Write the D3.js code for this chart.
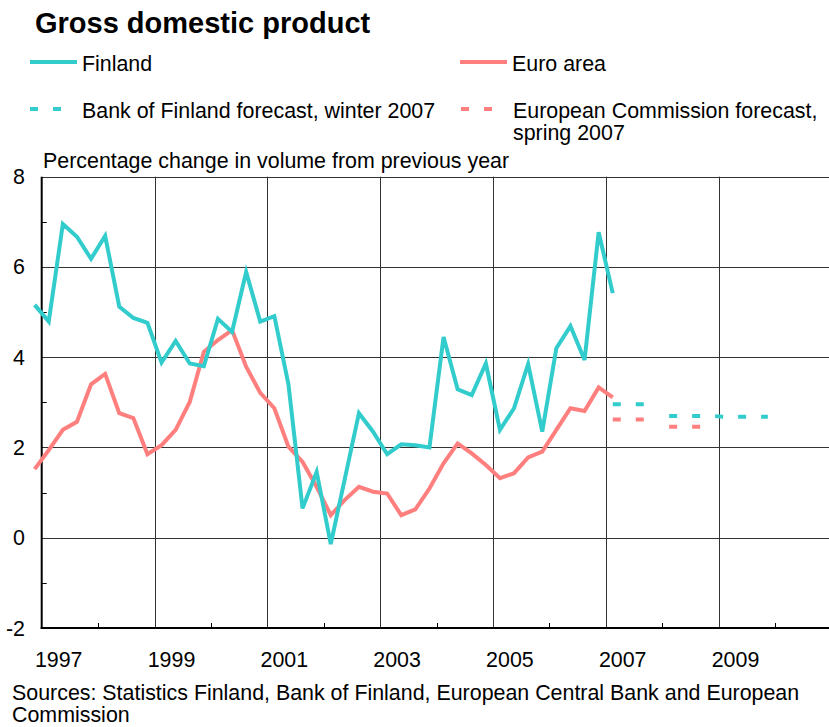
<!DOCTYPE html>
<html>
<head>
<meta charset="utf-8">
<script src="https://cdn.jsdelivr.net/npm/d3@7"></script>
<style>
  body { margin: 0; background: #fff; }
  svg { display: block; font-family: "Liberation Sans", Arial, sans-serif; }
</style>
</head>
<body>
<svg width="829" height="727"></svg>
<script>
/* data : quarterly GDP growth, first point is Q4 1996 */
var startYear = 1996, startQuarter = 4
var finland = [5.16,
  4.79, 6.95, 6.67, 6.18,
  6.69, 5.12, 4.87, 4.76,
  3.88, 4.36, 3.86, 3.80,
  4.85, 4.56, 5.89, 4.79,
  4.91, 3.40, 0.65, 1.46,
  -0.14, 1.31, 2.76, 2.35,
  1.85, 2.07, 2.05, 2.00,
  4.45, 3.29, 3.16, 3.86,
  2.39, 2.87, 3.85, 2.35,
  4.20, 4.69, 3.94, 6.77,
  5.42]
var euroArea = [1.52,
  1.94, 2.39, 2.57, 3.40,
  3.63, 2.76, 2.65, 1.85,
  2.05, 2.39, 3.01, 4.12,
  4.38, 4.60, 3.79, 3.21,
  2.87, 2.02, 1.68, 1.13,
  0.50, 0.84, 1.13, 1.02,
  0.98, 0.50, 0.63, 1.09,
  1.65, 2.09, 1.87, 1.61,
  1.32, 1.43, 1.78, 1.91,
  2.39, 2.87, 2.81, 3.33,
  3.11]

/* annual forecasts, grouped in the runs that are drawn as one dashed line */
var bofForecast = [[{year: 2007, value: 2.96}], [{year: 2008, value: 2.70}, {year: 2009, value: 2.68}]]
var ecForecast = [[{year: 2007, value: 2.62}], [{year: 2008, value: 2.46}]]

var yTicks = [-2, 0, 2, 4, 6, 8]
var yMinorTicks = [-1, 1, 3, 5, 7]
var yearLabels = [1997, 1999, 2001, 2003, 2005, 2007, 2009]
var yearMinorTicks = [1998, 2000, 2002, 2004, 2006, 2008, 2010]

var colFinland = "#33cccc"
var colEuro = "#ff7f7f"
var fs = 21.4

/*-- scales --*/
var plotLeft = 41.7, plotTop = 176.7, plotBottom = 628
var x = d3.scaleLinear().domain([1997, 2011]).range([plotLeft, plotLeft + 14 * 56.4])
var y = d3.scaleLinear().domain([-2, 8]).range([plotBottom, plotTop])

function quarterPos(i) {
    var q = (startQuarter - 1) + i
    return startYear + q / 4 + 0.125
}

var svg = d3.select("svg")

/* title */
svg.append("text")
    .attr("x", 35).attr("y", 33)
    .attr("font-size", 29).attr("font-weight", "bold")
    .text("Gross domestic product")

/* legend */
var legend = svg.append("g").attr("font-size", fs)
function legendItem(lx, ly, color, dashed, lines) {
    legend.append("line")
        .attr("x1", lx).attr("x2", dashed ? lx + 32 : lx + 47)
        .attr("y1", ly).attr("y2", ly)
        .attr("stroke", color).attr("stroke-width", 4)
        .attr("stroke-dasharray", dashed ? "8,15" : null)
    lines.forEach(function(t, k) {
        legend.append("text")
            .attr("x", lx + 52).attr("y", ly + 9 + k * 22)
            .text(t)
    })
}
legendItem(30, 62, colFinland, false, ["Finland"])
legendItem(460, 62, colEuro, false, ["Euro area"])
legendItem(30, 109, colFinland, true, ["Bank of Finland forecast, winter 2007"])
legendItem(461, 109, colEuro, true, ["European Commission forecast,", "spring 2007"])

/* axis title */
svg.append("text")
    .attr("x", 43).attr("y", 168)
    .attr("font-size", fs)
    .text("Percentage change in volume from previous year")

/* grid */
var grid = svg.append("g").attr("stroke", "#333").attr("stroke-width", 1)
grid.selectAll(".hgrid")
    .data(yTicks.filter(function(d) { return d > -2 }))
    .enter().append("line")
    .attr("x1", plotLeft).attr("x2", 829)
    .attr("y1", function(d) { return Math.round(y(d)) + 0.5 })
    .attr("y2", function(d) { return Math.round(y(d)) + 0.5 })
grid.selectAll(".vgrid")
    .data(yearLabels.filter(function(d) { return d > 1997 }))
    .enter().append("line")
    .attr("x1", function(d) { return Math.round(x(d)) + 0.5 })
    .attr("x2", function(d) { return Math.round(x(d)) + 0.5 })
    .attr("y1", plotTop).attr("y2", plotBottom)

/* axes */
var axes = svg.append("g").attr("stroke", "#000")
axes.append("line")
    .attr("x1", plotLeft).attr("x2", plotLeft)
    .attr("y1", plotTop).attr("y2", plotBottom + 1)
    .attr("stroke-width", 2)
axes.append("line")
    .attr("x1", plotLeft - 1).attr("x2", 829)
    .attr("y1", plotBottom).attr("y2", plotBottom)
    .attr("stroke-width", 2)
axes.selectAll(".ytick")
    .data(yMinorTicks)
    .enter().append("line")
    .attr("x1", plotLeft).attr("x2", plotLeft + 5)
    .attr("y1", function(d) { return Math.round(y(d)) + 0.5 })
    .attr("y2", function(d) { return Math.round(y(d)) + 0.5 })
axes.selectAll(".xtick")
    .data(yearMinorTicks)
    .enter().append("line")
    .attr("x1", function(d) { return Math.round(x(d)) + 0.5 })
    .attr("x2", function(d) { return Math.round(x(d)) + 0.5 })
    .attr("y1", plotBottom).attr("y2", plotBottom - 5)

/* tick labels */
svg.append("g").attr("font-size", fs).attr("text-anchor", "end")
    .selectAll("text")
    .data(yTicks)
    .enter().append("text")
    .attr("x", 25)
    .attr("y", function(d) { return y(d) + 7.5 })
    .text(function(d) { return d })
svg.append("g").attr("font-size", fs).attr("text-anchor", "middle")
    .selectAll("text")
    .data(yearLabels)
    .enter().append("text")
    .attr("x", function(d) { return x(d) + 17 })
    .attr("y", 667)
    .text(function(d) { return d })

/* series */
var line = d3.line()
    .x(function(d, i) { return x(quarterPos(i)) })
    .y(function(d) { return y(d) })

svg.append("path").datum(euroArea)
    .attr("d", line)
    .attr("fill", "none").attr("stroke", colEuro).attr("stroke-width", 4)
svg.append("path").datum(finland)
    .attr("d", line)
    .attr("fill", "none").attr("stroke", colFinland).attr("stroke-width", 4)

/* forecasts, one point per quarter at the annual value */
function expand(run) {
    var pts = []
    run.forEach(function(d) {
        for (var q = 0; q < 4; q++) pts.push({t: d.year + q / 4 + 0.125, v: d.value})
    })
    return pts
}
var fline = d3.line()
    .x(function(d) { return x(d.t) })
    .y(function(d) { return y(d.v) })

function drawForecast(runs, color) {
    svg.append("g").selectAll("path")
        .data(runs)
        .enter().append("path")
        .attr("d", function(r) { return fline(expand(r)) })
        .attr("fill", "none").attr("stroke", color).attr("stroke-width", 4)
        .attr("stroke-dasharray", "8,15")
}
drawForecast(ecForecast, colEuro)
drawForecast(bofForecast, colFinland)

/* sources */
svg.append("g").attr("font-size", fs)
    .selectAll("text")
    .data(["Sources: Statistics Finland, Bank of Finland, European Central Bank and European", "Commission"])
    .enter().append("text")
    .attr("x", 12)
    .attr("y", function(d, i) { return 700 + i * 22 })
    .text(function(d) { return d })
</script>
</body>
</html>
